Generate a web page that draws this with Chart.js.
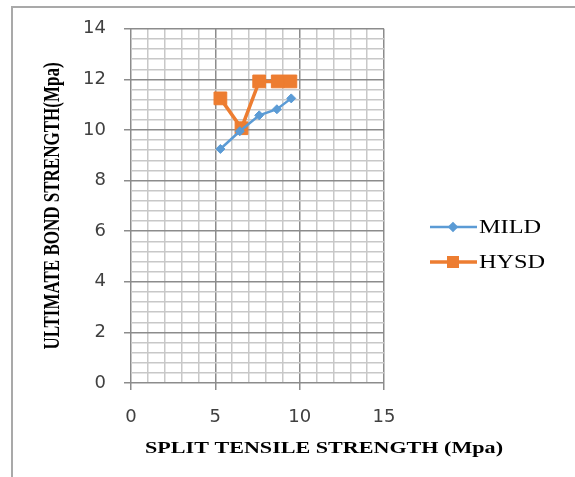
<!DOCTYPE html>
<html>
<head>
<meta charset="utf-8">
<script src="https://cdn.jsdelivr.net/npm/chart.js@4.4.1/dist/chart.umd.min.js"></script>
<style>
    html, body { margin: 0; padding: 0; background: #ffffff; }
    #wrap { width: 575px; height: 477px; position: relative; }
</style>
</head>
<body>
<div id="wrap"><canvas id="bondChart" width="575" height="477"></canvas></div>
<script>
// Số liệu
const seriesNames = ["MILD", "HYSD"];
const mildX = [5.3, 6.45, 7.6, 8.65, 9.5];
const mildY = [9.25, 9.95, 10.58, 10.82, 11.25];
const hysdX = [5.3, 6.55, 7.6, 8.7, 9.45];
const hysdY = [11.25, 10.07, 11.92, 11.92, 11.92];
const xTicks = [0, 5, 10, 15];
const yTicks = [0, 2, 4, 6, 8, 10, 12, 14];

const xTitle = "SPLIT TENSILE STRENGTH (Mpa)";
const yTitle = "ULTIMATE BOND STRENGTH(Mpa)";

const toPoints = (xs, ys) => xs.map((x, i) => ({ x: x, y: ys[i] }));
const isMajorX = (v) => xTicks.some((t) => Math.abs(t - v) < 1e-6);
const isMajorY = (v) => yTicks.some((t) => Math.abs(t - v) < 1e-6);

// Khung viền, tiêu đề trục và chú thích (chữ hơi kéo giãn ngang như ảnh gốc)
const decorPlugin = {
    id: "decor",
    beforeDraw(chart) {
        const ctx = chart.ctx;
        ctx.save();
        ctx.strokeStyle = "#a9a9a9";
        ctx.lineWidth = 2;
        ctx.strokeRect(12, 7, 620, 520);
        ctx.restore();
    },
    afterDraw(chart) {
        const ctx = chart.ctx;
        ctx.save();
        ctx.fillStyle = "#000000";
        ctx.textAlign = "center";
        ctx.textBaseline = "middle";
        // tiêu đề trục X
        ctx.font = "bold 17px 'Liberation Serif'";
        ctx.translate(324, 449);
        ctx.scale(1.3, 1);
        ctx.fillText(xTitle, 0, 0);
        ctx.restore();

        // tiêu đề trục Y
        ctx.save();
        ctx.fillStyle = "#000000";
        ctx.textAlign = "center";
        ctx.textBaseline = "middle";
        ctx.translate(53, 206);
        ctx.rotate(-Math.PI / 2);
        ctx.scale(1, 1.3);
        ctx.font = "bold 17px 'Liberation Serif'";
        ctx.fillText(yTitle, 0, 0);
        ctx.restore();

        // chú thích
        const rows = [227, 262];
        chart.data.datasets.forEach((ds, i) => {
            const y = rows[i];
            ctx.save();
            ctx.strokeStyle = ds.borderColor;
            ctx.lineWidth = ds.borderWidth;
            ctx.beginPath();
            ctx.moveTo(430, y);
            ctx.lineTo(477, y);
            ctx.stroke();
            ctx.fillStyle = ds.pointBackgroundColor;
            ctx.strokeStyle = ds.pointBorderColor;
            Chart.helpers.drawPoint(ctx, {
                pointStyle: ds.pointStyle,
                radius: ds.legendRadius,
                borderWidth: 1,
                rotation: 0
            }, 453, y);
            ctx.fillStyle = "#000000";
            ctx.font = "18px 'Liberation Serif'";
            ctx.textAlign = "left";
            ctx.textBaseline = "middle";
            ctx.translate(479, y + 1);
            ctx.scale(1.35, 1);
            ctx.fillText(ds.label, 0, 0);
            ctx.restore();
        });
    }
};

const bondCanvas = document.getElementById("bondChart");
if (bondCanvas) {
    const ctxBond = bondCanvas.getContext("2d");
    const bondChart = new Chart(ctxBond, {
        type: "scatter",
        data: {
            datasets: [
                {
                    label: seriesNames[0],
                    data: toPoints(mildX, mildY),
                    showLine: true,
                    borderColor: "#5b9bd5",
                    backgroundColor: "#5b9bd5",
                    borderWidth: 2.5,
                    pointStyle: "rectRot",
                    pointRadius: 4.5,
                    pointBackgroundColor: "#5b9bd5",
                    pointBorderColor: "#5b9bd5",
                    pointBorderWidth: 1,
                    legendRadius: 3.5,
                },
                {
                    label: seriesNames[1],
                    data: toPoints(hysdX, hysdY),
                    showLine: true,
                    borderColor: "#ed7d31",
                    backgroundColor: "#ed7d31",
                    borderWidth: 3.5,
                    pointStyle: "rect",
                    pointRadius: 9,
                    pointBackgroundColor: "#ed7d31",
                    pointBorderColor: "#ed7d31",
                    pointBorderWidth: 1,
                    legendRadius: 6,
                },
            ],
        },
        options: {
            responsive: false,
            animation: false,
            layout: {
                padding: { left: 0, right: 191, top: 27, bottom: 0 },
            },
            plugins: {
                legend: { display: false },
                tooltip: { enabled: false },
            },
            scales: {
                x: {
                    type: "linear",
                    min: 0,
                    max: 15,
                    afterFit: (scale) => { scale.height = 94; },
                    afterBuildTicks: (scale) => {
                        const t = [];
                        for (let i = 0; i <= 15; i++) t.push({ value: i });
                        scale.ticks = t;
                    },
                    ticks: {
                        autoSkip: false,
                        maxRotation: 0,
                        padding: 17,
                        color: "#404040",
                        font: { family: "'DejaVu Sans'", size: 18 },
                        callback: (v) => (isMajorX(v) ? String(v) : ""),
                    },
                    grid: {
                        color: (c) => (isMajorX(c.tick.value) ? "#8c8c8c" : "#c8c8c8"),
                        lineWidth: 1.5,
                        tickColor: (c) => (isMajorX(c.tick.value) ? "#8c8c8c" : "rgba(0,0,0,0)"),
                        tickLength: 7,
                    },
                    border: { display: false },
                },
                y: {
                    type: "linear",
                    min: 0,
                    max: 14,
                    afterFit: (scale) => { scale.width = 131; },
                    afterBuildTicks: (scale) => {
                        const t = [];
                        for (let i = 0; i <= 35; i++) t.push({ value: Math.round(i * 0.4 * 10) / 10 });
                        scale.ticks = t;
                    },
                    ticks: {
                        autoSkip: false,
                        padding: 18,
                        color: "#404040",
                        font: { family: "'DejaVu Sans'", size: 18 },
                        callback: (v) => (isMajorY(v) ? String(v) : ""),
                    },
                    grid: {
                        color: (c) => (isMajorY(c.tick.value) ? "#8c8c8c" : "#c8c8c8"),
                        lineWidth: 1.5,
                        tickColor: (c) => (isMajorY(c.tick.value) ? "#8c8c8c" : "rgba(0,0,0,0)"),
                        tickLength: 7,
                    },
                    border: { display: false },
                },
            },
        },
        plugins: [decorPlugin],
    });
}
</script>
</body>
</html>
